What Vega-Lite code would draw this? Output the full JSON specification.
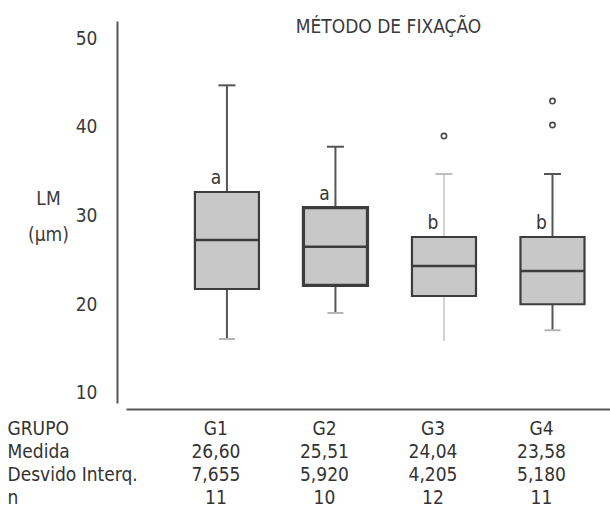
{
  "$schema": "https://vega.github.io/schema/vega-lite/v6.json",
  "autosize": {"type": "pad"},
  "padding": {"left": 7, "top": 18, "right": 0, "bottom": 0},
  "background": "white",
  "bounds": "flush",
  "spacing": 14,
  "title": {
    "text": "MÉTODO DE FIXAÇÃO",
    "font": "DejaVu Sans Condensed",
    "fontSize": 19,
    "fontWeight": "normal",
    "color": "#3a3a3a",
    "anchor": "middle",
    "dx": 80,
    "offset": -31,
    "baseline": "alphabetic"
  },
  "datasets": {
    "boxes": [
      {"group": "G1", "min": 16.08, "q1": 21.72, "median": 27.24, "q3": 32.65, "max": 44.67, "letter": "a"},
      {"group": "G2", "min": 19.01, "q1": 22.13, "median": 26.48, "q3": 30.88, "max": 37.75, "letter": "a"},
      {"group": "G3", "min": 15.86, "q1": 20.93, "median": 24.31, "q3": 27.58, "max": 34.68, "letter": "b"},
      {"group": "G4", "min": 17.07, "q1": 20.0, "median": 23.75, "q3": 27.58, "max": 34.68, "letter": "b"}
    ],
    "outliers": [
      {"group": "G3", "value": 38.96},
      {"group": "G4", "value": 42.9},
      {"group": "G4", "value": 40.2}
    ],
    "table": [
      {"group": "G1", "row": "GRUPO", "text": "G1"},
      {"group": "G2", "row": "GRUPO", "text": "G2"},
      {"group": "G3", "row": "GRUPO", "text": "G3"},
      {"group": "G4", "row": "GRUPO", "text": "G4"},
      {"group": "G1", "row": "Medida", "text": "26,60"},
      {"group": "G2", "row": "Medida", "text": "25,51"},
      {"group": "G3", "row": "Medida", "text": "24,04"},
      {"group": "G4", "row": "Medida", "text": "23,58"},
      {"group": "G1", "row": "Desvido Interq.", "text": "7,655"},
      {"group": "G2", "row": "Desvido Interq.", "text": "5,920"},
      {"group": "G3", "row": "Desvido Interq.", "text": "4,205"},
      {"group": "G4", "row": "Desvido Interq.", "text": "5,180"},
      {"group": "G1", "row": "n", "text": "11"},
      {"group": "G2", "row": "n", "text": "10"},
      {"group": "G3", "row": "n", "text": "12"},
      {"group": "G4", "row": "n", "text": "11"}
    ]
  },
  "vconcat": [
    {
      "width": 484,
      "height": 382,
      "layer": [
        {
          "data": {"name": "boxes"},
          "mark": {"type": "rule", "strokeWidth": 2},
          "encoding": {
            "x": {"field": "group", "type": "nominal"},
            "y": {"field": "q3", "type": "quantitative"},
            "y2": {"field": "max"},
            "color": {"condition": {"test": "datum.group === 'G3'", "value": "#d4d4d4"}, "value": "#555555"}
          }
        },
        {
          "data": {"name": "boxes"},
          "mark": {"type": "rule", "strokeWidth": 2},
          "encoding": {
            "x": {"field": "group", "type": "nominal"},
            "y": {"field": "min", "type": "quantitative"},
            "y2": {"field": "q1"},
            "color": {"condition": {"test": "datum.group === 'G3'", "value": "#d4d4d4"}, "value": "#555555"}
          }
        },
        {
          "data": {"name": "boxes"},
          "mark": {"type": "tick", "size": 17, "thickness": 2, "opacity": 1},
          "encoding": {
            "x": {"field": "group", "type": "nominal"},
            "y": {"field": "max", "type": "quantitative"},
            "color": {"condition": {"test": "datum.group === 'G3'", "value": "#bdbdbd"}, "value": "#555555"}
          }
        },
        {
          "data": {"name": "boxes"},
          "transform": [{"filter": "datum.group !== 'G3'"}],
          "mark": {"type": "tick", "size": 16, "thickness": 2, "color": "#b5b5b5", "opacity": 1},
          "encoding": {
            "x": {"field": "group", "type": "nominal"},
            "y": {"field": "min", "type": "quantitative"}
          }
        },
        {
          "data": {"name": "boxes"},
          "mark": {"type": "bar", "fill": "#c8c8c8", "stroke": "#3d3d3d"},
          "encoding": {
            "x": {"field": "group", "type": "nominal"},
            "y": {"field": "q1", "type": "quantitative"},
            "y2": {"field": "q3"},
            "strokeWidth": {"condition": {"test": "datum.group === 'G2'", "value": 3.2}, "value": 2.2}
          }
        },
        {
          "data": {"name": "boxes"},
          "mark": {"type": "tick", "size": 64, "thickness": 2.5, "color": "#3d3d3d", "opacity": 1},
          "encoding": {
            "x": {"field": "group", "type": "nominal"},
            "y": {"field": "median", "type": "quantitative"}
          }
        },
        {
          "data": {"name": "outliers"},
          "mark": {"type": "point", "shape": "circle", "size": 28, "filled": false, "stroke": "#4a4a4a", "strokeWidth": 1.6, "opacity": 1},
          "encoding": {
            "x": {"field": "group", "type": "nominal"},
            "y": {"field": "value", "type": "quantitative"}
          }
        },
        {
          "data": {"name": "boxes"},
          "mark": {"type": "text", "font": "DejaVu Sans Condensed", "fontSize": 19, "color": "#333333", "dx": -11, "dy": -14, "baseline": "middle", "align": "center"},
          "encoding": {
            "x": {"field": "group", "type": "nominal"},
            "y": {"field": "q3", "type": "quantitative"},
            "text": {"field": "letter"}
          }
        }
      ],
      "encoding": {
        "x": {
          "field": "group",
          "type": "nominal",
          "scale": {"type": "band", "domain": ["G1", "G2", "G3", "G4"], "paddingInner": 0.41, "paddingOuter": 0.435, "align": 0.73},
          "axis": {"title": null, "labels": false, "ticks": false, "domain": true, "domainColor": "#595959", "domainWidth": 2, "offset": 6, "grid": false}
        },
        "y": {
          "type": "quantitative",
          "scale": {"domain": [8.87, 51.92], "nice": false, "zero": false},
          "axis": {
            "title": ["LM", "(µm)"],
            "titleAngle": 0,
            "titleAlign": "center",
            "titleBaseline": "middle",
            "titleX": -69,
            "titleY": 177,
            "titleFont": "DejaVu Sans Condensed",
            "titleFontSize": 19,
            "titleFontWeight": "normal",
            "titleColor": "#3a3a3a",
            "titleLineHeight": 36,
            "values": [10, 20, 30, 40, 50],
            "ticks": false,
            "grid": false,
            "domainColor": "#595959",
            "domainWidth": 2,
            "offset": 9,
            "labelPadding": 20,
            "labelFont": "DejaVu Sans Condensed",
            "labelFontSize": 19,
            "labelColor": "#3a3a3a"
          }
        }
      }
    },
    {
      "width": 484,
      "height": 92,
      "data": {"name": "table"},
      "mark": {"type": "text", "font": "DejaVu Sans Condensed", "fontSize": 19, "color": "#333333", "dx": -11, "baseline": "middle", "align": "center"},
      "encoding": {
        "x": {
          "field": "group",
          "type": "nominal",
          "scale": {"type": "band", "domain": ["G1", "G2", "G3", "G4"], "paddingInner": 0.41, "paddingOuter": 0.435, "align": 0.73},
          "axis": null
        },
        "y": {
          "field": "row",
          "type": "nominal",
          "scale": {"type": "band", "domain": ["GRUPO", "Medida", "Desvido Interq.", "n"], "paddingInner": 0, "paddingOuter": 0},
          "axis": {
            "title": null,
            "domain": false,
            "ticks": false,
            "grid": false,
            "labelAlign": "left",
            "labelBaseline": "middle",
            "labelPadding": 119,
            "labelFont": "DejaVu Sans Condensed",
            "labelFontSize": 19,
            "labelColor": "#333333"
          }
        },
        "text": {"field": "text"}
      }
    }
  ],
  "config": {
    "view": {"stroke": null},
    "axis": {"grid": false}
  }
}
